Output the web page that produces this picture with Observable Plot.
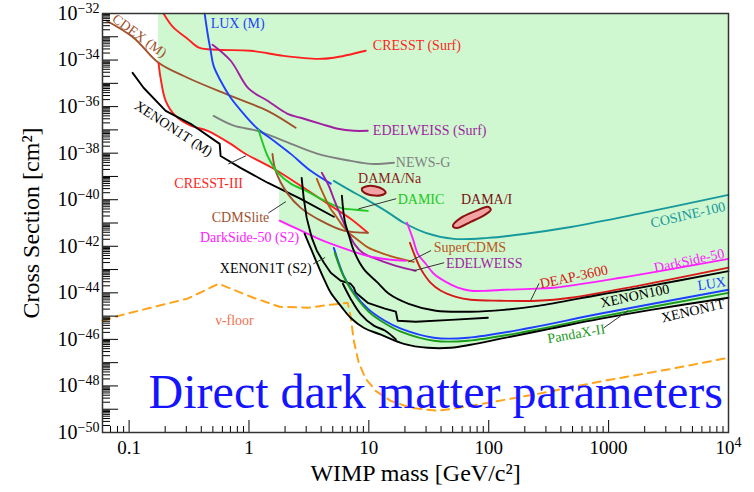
<!DOCTYPE html>
<html><head><meta charset="utf-8">
<script src="https://cdn.jsdelivr.net/npm/d3@7"></script>
<script src="https://cdn.jsdelivr.net/npm/@observablehq/plot@0.6"></script>
<style>body{margin:0;background:#fff}</style>
</head><body><div id="chart"></div>
<script>
// Each point: [WIMP mass in GeV/c^2, log10 of cross section in cm^2]
const cresstSurf = [[0.194,-32.01],[0.235,-32.61],[0.307,-33.08],[0.383,-33.47],[0.549,-33.56],[1.03,-33.60],[1.95,-33.82],[3.75,-33.95],[5.10,-33.90],[9.42,-33.60]];
const cdexM = [[0.0649,-32.31],[0.109,-33.04],[0.176,-34.12],[0.307,-34.76],[0.704,-35.54],[1.43,-36.18],[2.45,-36.91]];
const luxM = [[0.427,-32.01],[0.452,-32.87],[0.479,-33.60],[0.507,-34.25],[0.58,-34.89],[0.704,-35.62],[0.903,-36.31],[1.18,-36.95],[1.61,-37.47],[2.23,-38.03],[3.27,-38.76],[4.81,-39.31]];
const edelweissSurf = [[0.497,-33.34],[0.704,-34.03],[0.995,-35.23],[1.43,-35.75],[2.10,-36.31],[2.70,-36.48],[3.97,-36.74],[5.50,-36.95],[7.49,-37.04],[9.79,-37.04]];
const newsG = [[0.507,-36.40],[0.747,-36.82],[1.18,-37.04],[1.95,-37.47],[3.75,-38.03],[7.04,-38.33],[10.4,-38.46],[16.2,-38.41]];
const cresstIII = [[0.176,-34.12],[0.183,-34.76],[0.202,-35.75],[0.244,-36.40],[0.326,-36.82],[0.452,-37.04],[0.704,-37.60],[0.903,-37.98],[1.61,-38.67],[2.70,-39.40],[4.81,-40.26],[7.04,-40.82],[9.79,-41.42]];
const xenon1tM = [[0.107,-34.55],[0.132,-35.19],[0.202,-36.18],[0.326,-36.74],[0.570,-37.60],[0.580,-38.12],[0.850,-38.63],[1.43,-39.27],[2.70,-39.96],[5.10,-40.73]];
const cdmslite = [[1.57,-38.03],[1.67,-38.76],[2.10,-39.74],[2.70,-40.35],[3.97,-40.90],[6.17,-41.33],[9.79,-41.42]];
const damic = [[1.20,-36.99],[1.30,-37.55],[1.43,-38.12],[1.74,-38.84],[2.23,-39.31],[2.97,-39.61],[3.97,-39.96],[5.83,-40.35],[7.78,-40.43],[9.79,-40.48]];
const cosine100 = [[5.10,-39.19],[7.04,-39.61],[9.05,-39.92],[13.8,-40.48],[19.6,-40.99],[29.8,-41.42],[51.3,-41.68],[98.3,-41.64],[197,-41.47],[484,-41.17],[1756,-40.61],[10000,-39.79]];
const darkside50S2 = [[1.80,-40.90],[2.23,-41.12],[2.97,-41.42],[3.82,-41.68],[4.81,-41.89],[7.04,-42.19],[10.4,-42.45],[15.2,-42.58],[20.3,-42.62]];
const darkside50 = [[20.8,-40.99],[23.3,-41.68],[25.6,-42.32],[29.8,-42.75],[34.8,-43.18],[43.9,-43.53],[55.2,-43.78],[70.7,-43.91],[98.3,-43.91],[134,-43.87],[225,-43.83],[349,-43.78],[1267,-43.35],[10000,-42.54]];
const superCDMS = [[3.68,-39.10],[4.05,-39.61],[4.74,-40.35],[5.29,-40.69],[5.96,-41.08],[6.80,-41.42],[8.24,-41.76],[9.98,-42.07],[12.6,-42.28],[16.8,-42.49],[23.7,-42.67]];
const edelweiss = [[4.05,-38.84],[4.63,-39.40],[5.10,-39.96],[5.83,-40.69],[6.55,-41.29],[7.64,-41.93],[8.88,-42.28],[10.8,-42.49],[16.8,-42.84],[24.6,-43.05]];
const deap3600 = [[22.0,-41.85],[24.2,-42.41],[27.1,-42.97],[32.8,-43.57],[39.9,-43.91],[53.2,-44.17],[70.7,-44.30],[126,-44.34],[257,-44.34],[484,-44.21],[1756,-43.70],[10000,-42.92]];
const xenon100 = [[5.96,-39.83],[6.29,-40.90],[6.91,-41.63],[7.49,-42.19],[9.05,-42.97],[11.9,-43.57],[14.7,-44.04],[21.5,-44.47],[36.2,-44.77],[70.7,-44.81],[134,-44.73],[257,-44.56],[843,-44.08],[1756,-43.80],[10000,-43.07]];
const xenon1tS2 = [[2.75,-39.06],[2.86,-39.92],[3.03,-40.78],[3.34,-41.63],[3.68,-42.19],[4.22,-42.71],[4.81,-43.14],[5.83,-43.48],[7.04,-43.61],[7.49,-43.78],[7.78,-44.00],[9.79,-44.43],[13.6,-44.68],[16.8,-44.81],[17.4,-45.20],[24.6,-45.24],[48.3,-45.16],[98.3,-45.07]];
const xenon1t = [[2.91,-41.46],[3.34,-42.19],[3.75,-42.80],[4.22,-43.40],[4.81,-44.00],[5.83,-44.56],[7.04,-45.07],[9.05,-45.50],[12.6,-45.80],[19.6,-46.19],[31.0,-46.36],[48.3,-46.36],[70.7,-46.23],[126,-45.97],[330,-45.54],[843,-45.12],[2255,-44.73],[10000,-44.21]];
const xenon1tLow = [[6.07,-43.61],[7.04,-44.25],[8.5,-44.90],[11.0,-45.41],[13.6,-45.62],[16.8,-46.00]];
const lux = [[5.10,-42.07],[5.72,-42.84],[6.17,-43.27],[7.49,-44.00],[9.79,-44.68],[13.6,-45.20],[18.5,-45.54],[34.8,-45.93],[67.0,-45.93],[225,-45.50],[843,-44.90],[10000,-43.87]];
const pandaxII = [[5.19,-42.28],[5.83,-43.01],[6.42,-43.48],[7.78,-44.17],[9.98,-44.81],[13.8,-45.33],[18.5,-45.67],[34.8,-46.06],[67.0,-46.06],[225,-45.63],[843,-45.03],[10000,-44.00]];
const nuFloor = [[0.0601,-45.20],[0.0817,-44.99],[0.151,-44.64],[0.307,-44.25],[0.559,-43.61],[1.09,-44.21],[1.80,-44.60],[3.09,-44.64],[4.81,-44.51],[6.66,-44.43],[7.04,-44.99],[7.49,-46.06],[8.24,-47.01],[9.42,-47.69],[11.4,-48.21],[15.2,-48.64],[22.4,-48.94],[37.6,-49.07],[70.7,-48.86],[257,-48.34],[914,-47.78],[3310,-47.27],[10000,-46.79]];
const damaNa = [[8.73,-39.53],[9.6,-39.42],[11.2,-39.42],[13.1,-39.55],[13.8,-39.70],[12.6,-39.81],[10.6,-39.81],[9.05,-39.68]];
const damaI = [[50.2,-41.12],[58.5,-40.78],[78.1,-40.48],[98.3,-40.30],[104,-40.43],[92.9,-40.65],[70.7,-40.95],[54.2,-41.21]];
// lower edge of the excluded (shaded) region
const excludedEdge = [[0.176,-34.12],[0.183,-34.76],[0.202,-35.75],[0.244,-36.40],[0.326,-36.82],[0.452,-37.04],[0.704,-37.60],[0.903,-37.98],[1.61,-38.67],[1.80,-38.85],[1.80,-40.90],[2.23,-41.12],[2.91,-41.42],[3.34,-42.19],[3.75,-42.80],[4.22,-43.40],[4.81,-44.00],[5.83,-44.56],[7.04,-45.07],[9.05,-45.50],[12.6,-45.80],[19.6,-46.19],[31.0,-46.36],[48.3,-46.36],[70.7,-46.23],[126,-45.97],[330,-45.54],[843,-45.12],[2255,-44.73],[10000,-44.21]];
const leaders = [
  [[0.677,-38.46],[0.938,-38.12]],
  [[1.46,-40.56],[2.02,-40.09]],
  [[3.46,-42.75],[4.29,-42.49]],
  [[8.24,-40.39],[16.8,-39.96]],
  [[21.5,-42.67],[32.8,-42.19]],
  [[23.7,-43.05],[42.2,-42.71]],
  [[225,-44.30],[262,-43.61]],
  [[914,-45.50],[1450,-44.77]]
];
// labels: text, mass, log10 sigma, color, rotation, anchor
const labelText  = ["LUX (M)","CDEX (M)","CRESST (Surf)","EDELWEISS (Surf)","NEWS-G","DAMA/Na","DAMIC","DAMA/I","COSINE-100","XENON1T (M)","CRESST-III","CDMSlite","DarkSide-50 (S2)","XENON1T (S2)","SuperCDMS","EDELWEISS","DEAP-3600","DarkSide-50","XENON100","LUX","XENON1T","PandaX-II","ν-floor"];
const labelMass  = [0.479,0.122,10.8,10.8,16.8,14.9,17.4,96,4590,0.235,0.461,0.85,1.01,1.38,34.8,43.9,513,4690,1657,7250,5050,537,0.76];
const labelLogS  = [-32.44,-32.96,-33.39,-37.04,-38.41,-39.10,-40.01,-40.01,-40.65,-36.95,-39.31,-40.78,-41.63,-42.97,-42.07,-42.75,-43.31,-42.62,-44.13,-43.61,-44.77,-45.76,-45.20];
const labelColor = ["#1f3fff","#a0522d","#ff1f1f","#a01fa0","#808080","#8b1c1c","#20c820","#7a1010","#17999b","#000","#ff1f1f","#a0522d","#ff20ff","#000","#b8561b","#a01fa0","#d81818","#ff20ff","#000","#1f3fff","#000","#1a9a1a","#f07050"];
const labelAngle = [0,36,0,0,0,0,0,0,-13,33,0,0,0,0,0,0,-12,-12,-12,-8,-13,-10,0];
const labelAnchor= ["start","middle","start","start","start","middle","start","middle","middle","middle","middle","middle","middle","middle","start","start","middle","middle","middle","middle","middle","middle","middle"];
const xTickLabels = [0.1,0.3,0.5,1,3,5,10,30,50,100,300,1000,3000,10000];
const yTickExps = [-32,-34,-36,-38,-40,-42,-44,-46,-48,-50];
const titleText = "Direct dark matter parameters";

const toRows = pts => pts.map(([m, e]) => ({m, s: Math.pow(10, e)}));
const curves = [
  {pts: cdexM, c: "#a0522d"},
  {pts: cresstSurf, c: "#ff1f1f"},
  {pts: edelweissSurf, c: "#a01fa0"},
  {pts: newsG, c: "#808080"},
  {pts: luxM, c: "#1f3fff"},
  {pts: cresstIII, c: "#ff1f1f"},
  {pts: xenon1tM, c: "#000", lin: true},
  {pts: cdmslite, c: "#a0522d"},
  {pts: damic, c: "#20c820"},
  {pts: cosine100, c: "#17999b"},
  {pts: superCDMS, c: "#b8561b"},
  {pts: edelweiss, c: "#a01fa0"},
  {pts: darkside50S2, c: "#ff20ff"},
  {pts: darkside50, c: "#ff20ff"},
  {pts: deap3600, c: "#d81818"},
  {pts: xenon100, c: "#000"},
  {pts: xenon1tS2, c: "#000", lin: true},
  {pts: xenon1tLow, c: "#000"},
  {pts: lux, c: "#1f3fff"},
  {pts: pandaxII, c: "#1a9a1a"},
  {pts: xenon1t, c: "#000"}
];

const W = 754, H = 492, mL = 102, mR = 26, mT = 13, mB = 60;
const innerW = W - mL - mR, innerH = H - mT - mB;

const xDecades = [0.1,1,10,100,1000];
const xMinor = [];
for (const b of [0.01,0.1,1,10,100,1000]) for (let k = 2; k <= 9; k++) { const v = b*k; if (v >= 0.06 && v < 1e4) xMinor.push(v); }
const yDecades = [], yMinor = [];
for (let e = -50; e < -32; e++) { if (e > -50) yDecades.push(Math.pow(10, e)); for (let k = 2; k <= 9; k++) yMinor.push(k*Math.pow(10, e)); }

const serif = "'Liberation Serif','Times New Roman',Times,serif";
const marks = [
  Plot.areaY(excludedEdge.map(([m,e]) => ({m, s: Math.pow(10,e), top: 1e-32})), {x: "m", y1: "s", y2: "top", fill: "#cff8d1"}),
  Plot.line(toRows(nuFloor), {x: "m", y: "s", stroke: "#ffa31a", strokeWidth: 2, strokeDasharray: "8,6"}),
  ...curves.map(c => Plot.line(toRows(c.pts), {x: "m", y: "s", stroke: c.c, strokeWidth: 1.9, curve: c.lin ? "linear" : "catmull-rom"})),
  ...[damaNa, damaI].map(p => Plot.line(toRows(p), {x: "m", y: "s", stroke: "#8b1010", strokeWidth: 2, fill: "#f2a3a3", curve: "catmull-rom-closed"})),
  ...leaders.map(p => Plot.line(toRows(p), {x: "m", y: "s", stroke: "#333", strokeWidth: 1})),
  ...labelText.map((t, i) => Plot.text([t], {x: () => labelMass[i], y: () => Math.pow(10, labelLogS[i]), text: d => d, fill: labelColor[i], rotate: labelAngle[i], textAnchor: labelAnchor[i], fontSize: 14, fontFamily: serif})),
  Plot.text([titleText], {x: () => 0.1455, y: () => Math.pow(10, -48.28), text: d => d, textAnchor: "start", fontSize: 48, fill: "#1414ff", fontFamily: serif}),
  Plot.tickX(xMinor, {x: d => d, insetTop: innerH - 6, stroke: "#000"}),
  Plot.tickX(xDecades, {x: d => d, insetTop: innerH - 12, stroke: "#000"}),
  Plot.tickY(yMinor, {y: d => d, insetRight: innerW - 8, stroke: "#000"}),
  Plot.tickY(yDecades, {y: d => d, insetRight: innerW - 16, stroke: "#000"}),
  Plot.frame({stroke: "#333", strokeWidth: 1.5}),
  Plot.axisX({ticks: xTickLabels, tickSize: 0, tickPadding: 8, fontSize: 19, label: null, tickFormat: d => d === 10000 ? "10^4" : String(d)}),
  Plot.axisY({ticks: yTickExps.map(e => Math.pow(10, e)), tickSize: 0, tickPadding: 3, fontSize: 20, label: null, tickFormat: d => "10^" + Math.round(Math.log10(d))}),
  Plot.text(["Cross Section [cm²]"], {frameAnchor: "left", dx: -71, rotate: -90, textAnchor: "middle", lineAnchor: "middle", text: d => d, fontSize: 24, fill: "#000", fontFamily: serif}),
  Plot.text(["WIMP mass [GeV/c²]"], {frameAnchor: "bottom", dy: 41, textAnchor: "middle", lineAnchor: "middle", text: d => d, fontSize: 24, fill: "#000", fontFamily: serif})
];

const chart = Plot.plot({
  width: W, height: H, marginLeft: mL, marginRight: mR, marginTop: mT, marginBottom: mB,
  style: {fontFamily: serif, background: "#fff", color: "#000"},
  x: {type: "log", domain: [0.06, 1e4]},
  y: {type: "log", domain: [1e-50, 1e-32]},
  marks
});

// turn "10^e" tick labels into a base with a raised, smaller exponent
const NS = "http://www.w3.org/2000/svg";
chart.querySelectorAll("text").forEach(t => {
  const s = t.textContent;
  if (!/^10\^-?\d+$/.test(s)) return;
  const [base, exp] = s.split("^");
  t.textContent = "";
  const a = document.createElementNS(NS, "tspan");
  a.textContent = base;
  const b = document.createElementNS(NS, "tspan");
  b.textContent = exp.replace("-", "\u2212");
  b.setAttribute("dy", "-0.5em");
  b.setAttribute("font-size", "14");
  t.appendChild(a); t.appendChild(b);
});
document.getElementById("chart").appendChild(chart);
</script>
</body></html>
